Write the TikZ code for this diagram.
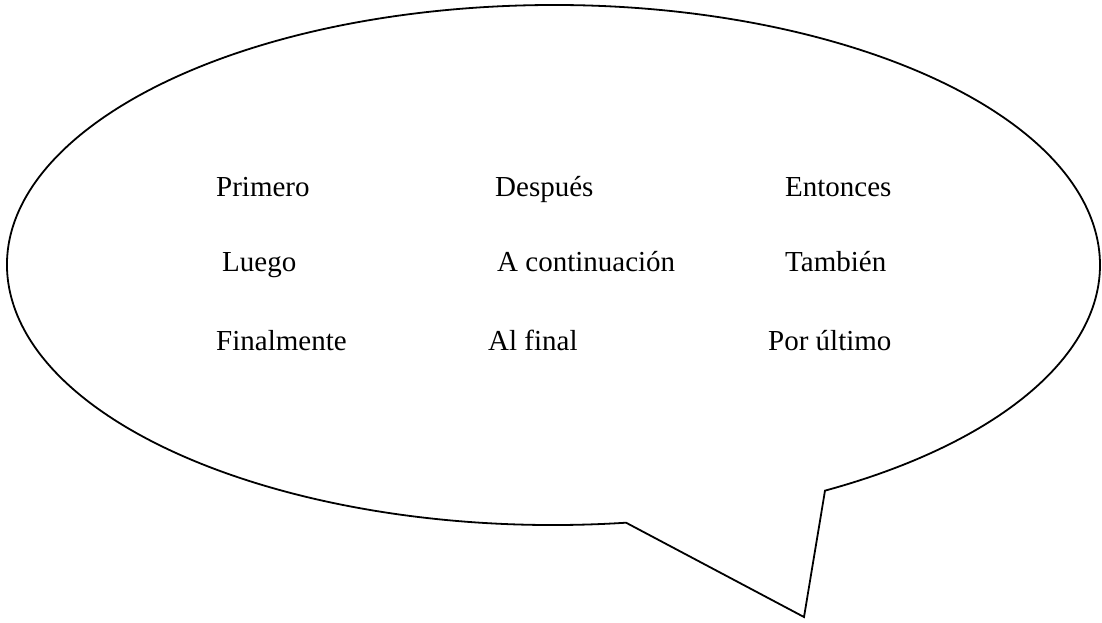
\documentclass[tikz,border=0pt]{standalone}
\usepackage{fontspec}
\setmainfont{Liberation Serif}
\usetikzlibrary{calc}
\begin{document}
\begin{tikzpicture}[x=1pt,y=1pt,
  bubble/.style={draw=black,line width=1.8pt,line join=miter},
  word/.style={anchor=base west,inner sep=0pt,font=\fontsize{29}{34}\selectfont}]
\useasboundingbox (0,0) rectangle (1102,-622);
\coordinate (c) at (553.5,-265);
\coordinate (A) at ($(c)+(277.63:546.5pt and 260pt)$);
\coordinate (T) at (804,-617);
\draw[bubble] (A) arc[start angle=277.63, end angle=-60.21, x radius=546.5pt, y radius=260pt] -- (T) -- cycle;
\node[word] (w1) at (216,-196) {Primero};
\node[word] (w2) at (495,-196) {Después};
\node[word] (w3) at (785,-196) {Entonces};
\node[word] (w4) at (222,-271) {Luego};
\node[word] (w5) at (497,-271) {A continuación};
\node[word] (w6) at (785,-271) {También};
\node[word] (w7) at (216,-350) {Finalmente};
\node[word] (w8) at (488,-350) {Al final};
\node[word] (w9) at (768,-350) {Por último};
\end{tikzpicture}
\end{document}
